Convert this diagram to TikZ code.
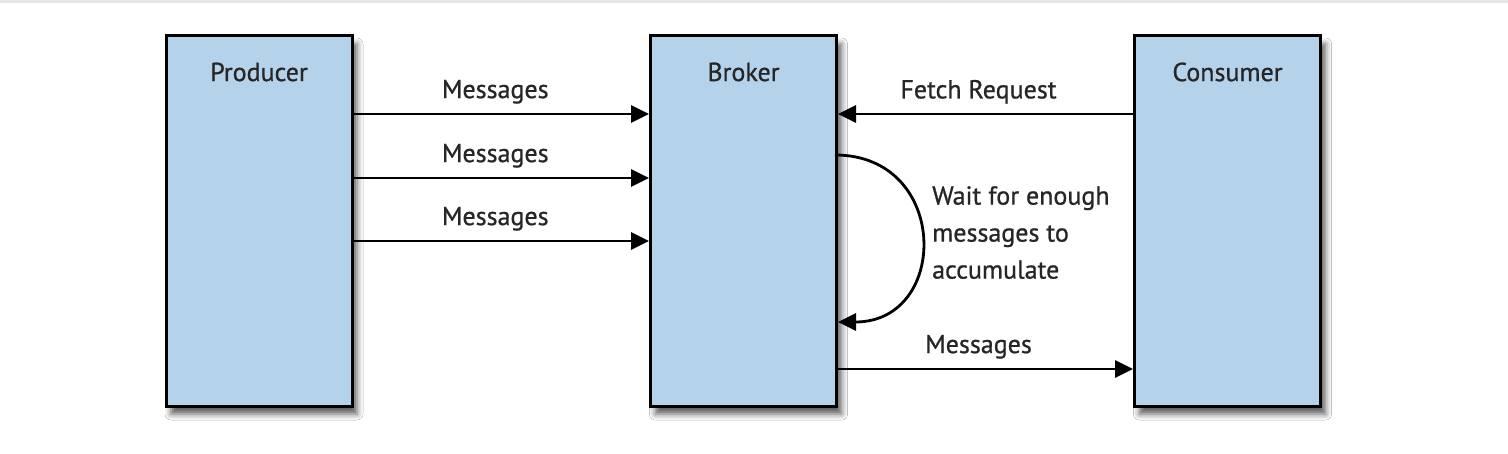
\documentclass[tikz,border=0pt]{standalone}
\usepackage{fontspec}
\setmainfont{PT Sans}[FakeBold=0.8]
\usetikzlibrary{arrows.meta,shadows.blur}
\definecolor{boxblue}{HTML}{B4D3EB}
\definecolor{topgray}{HTML}{E6E6E6}
\begin{document}
\begin{tikzpicture}[x=1pt,y=-1pt,
  box/.style={draw=black,line width=3pt,fill=boxblue,minimum width=186pt,minimum height=370pt,inner sep=0pt,
    blur shadow={shadow xshift=5pt,shadow yshift=-8pt,shadow blur radius=6pt,shadow opacity=65}},
  title/.style={font=\fontsize{26}{28}\selectfont,text=black!85,inner sep=0pt},
  lbl/.style={font=\fontsize{26}{28}\selectfont,text=black!85,inner sep=0pt},
  arr/.style={line width=2.8pt,-{Triangle[length=18pt,width=17pt]}}]
\useasboundingbox (0,0) rectangle (1508,454);
\fill[white] (0,0) rectangle (1508,454);
\fill[topgray] (0,0) rectangle (1508,3);
\node[box] (prod) at (259,221) {};
\node[box] (brok) at (743.5,221) {};
\node[box] (cons) at (1227.5,221) {};
\node[title] (tprod) at (259,72) {Producer};
\node[title] (tbrok) at (743.5,72) {Broker};
\node[title] (tcons) at (1227.5,72) {Consumer};
\coordinate (w) at (835,155);
\coordinate (we) at (838,322);
\draw[arr] (prod.east |- 0,114) -- node[lbl,above=9pt,xshift=-6pt] (m1) {Messages} (brok.west |- 0,114);
\draw[arr] (prod.east |- 0,178) -- node[lbl,above=9pt,xshift=-6pt] (m2) {Messages} (brok.west |- 0,178);
\draw[arr] (prod.east |- 0,241) -- node[lbl,above=9pt,xshift=-6pt] (m3) {Messages} (brok.west |- 0,241);
\draw[arr] (cons.west |- 0,114) -- node[lbl,above=9pt,xshift=-7pt] (fr) {Fetch Request} (brok.east |- 0,114);
\draw[arr] (brok.east |- 0,369) -- node[lbl,above=9pt,xshift=-7pt] (m4) {Messages} (cons.west |- 0,369);
\draw[arr] (w) .. controls (950,155) and (950,322) .. (we);
\node[lbl,anchor=north west,align=left,font=\fontsize{26}{37}\selectfont] (wait) at (932,186) {Wait for enough\\messages to\\accumulate};
\end{tikzpicture}
\end{document}
